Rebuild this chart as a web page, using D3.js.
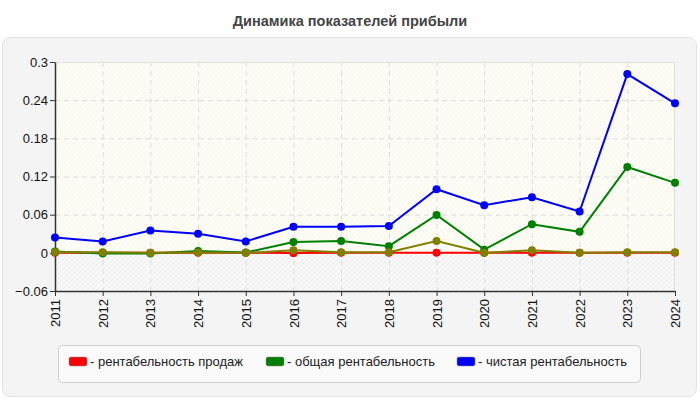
<!DOCTYPE html>
<html>
<head>
<meta charset="utf-8">
<script src="https://cdn.jsdelivr.net/npm/d3@7"></script>
<style>
	body { margin: 0; background: #fff; }
	text { font-family: "Liberation Sans", Arial, sans-serif; }
</style>
</head>
<body>
<div class="line-chart"></div>
<script>
const years = ['2011', '2012', '2013', '2014', '2015', '2016', '2017', '2018', '2019', '2020', '2021', '2022', '2023', '2024'];
const salesRent = [0.0003, 0.0003, 0.0003, 0.0003, 0.0003, -0.0004, 0.0002, 0.0002, 0.0002, 0.0002, 0.0001, 0.0002, 0.0002, 0.0002];
const totalRent = [0.002, -0.001, -0.001, 0.003, 0.0005, 0.017, 0.0185, 0.0105, 0.0595, 0.005, 0.045, 0.033, 0.135, 0.11];
const netRent = [0.024, 0.018, 0.035, 0.030, 0.018, 0.041, 0.041, 0.042, 0.100, 0.075, 0.0875, 0.065, 0.281, 0.235];
const otherRent = [0.001, 0.001, 0, 0.0005, 0, 0.004, 0.001, 0.001, 0.0185, 0, 0.004, 0, 0.001, 0.001];
const yTicks = [-0.06, 0, 0.06, 0.12, 0.18, 0.24, 0.3];

const series = [
	{name: 'рентабельность продаж', values: salesRent, color: '#ff0000', legend: true},
	{name: 'общая рентабельность', values: totalRent, color: '#008000', legend: true},
	{name: 'чистая рентабельность', values: netRent, color: '#0000ff', legend: true},
	{name: '', values: otherRent, color: '#808000', legend: false}
];

const margin = ({top: 62, right: 25, bottom: 109, left: 55});
const width = 700 - margin.left - margin.right;
const height = 400 - margin.top - margin.bottom;

const root = d3.select('.line-chart').append('svg')
	.attr('width', 700)
	.attr('height', 400);

// panel + title
root.append('rect')
	.attr('x', 2.5).attr('y', 37.5)
	.attr('width', 694).attr('height', 359)
	.attr('rx', 8)
	.attr('fill', '#f4f4f4')
	.attr('stroke', '#e2e2e2');

root.append('text')
	.attr('x', 350).attr('y', 26)
	.attr('text-anchor', 'middle')
	.attr('font-size', 14.5)
	.attr('font-weight', 'bold')
	.attr('fill', '#444')
	.text('Динамика показателей прибыли');

const defs = root.append('defs');
function hatch(id, bg, fg) {
	const p = defs.append('pattern')
		.attr('id', id)
		.attr('patternUnits', 'userSpaceOnUse')
		.attr('width', 5).attr('height', 5);
	p.append('rect').attr('width', 5).attr('height', 5).attr('fill', bg);
	p.append('path').attr('d', 'M0,5 L5,0 M-1,1 L1,-1 M4,6 L6,4')
		.attr('stroke', fg).attr('stroke-width', 1);
}
hatch('hatchPos', '#fdfdf6', '#f6f6ee');
hatch('hatchNeg', '#f8f8f8', '#ececec');

const svg = root.append('g')
	.attr('transform', 'translate(' + margin.left + ',' + margin.top + ')');

const xScale = d3.scalePoint()
	.domain(years)
	.range([0, width]);

const yScale = d3.scaleLinear()
	.domain([-0.06, 0.3])
	.range([height, 0]);

svg.append('rect')
	.attr('width', width)
	.attr('height', yScale(0))
	.attr('fill', 'url(#hatchPos)');
svg.append('rect')
	.attr('y', yScale(0))
	.attr('width', width)
	.attr('height', height - yScale(0))
	.attr('fill', 'url(#hatchNeg)');

// grid
svg.append('g')
	.selectAll('line')
	.data(yTicks.slice(1, -1))
	.join('line')
	.attr('x1', 0).attr('x2', width)
	.attr('y1', d => yScale(d) + 0.5).attr('y2', d => yScale(d) + 0.5)
	.attr('stroke', '#dcdcdc')
	.attr('stroke-dasharray', '5,4');

svg.append('g')
	.selectAll('line')
	.data(years.slice(1, -1))
	.join('line')
	.attr('x1', d => xScale(d) + 0.5).attr('x2', d => xScale(d) + 0.5)
	.attr('y1', 0).attr('y2', height)
	.attr('stroke', '#dcdcdc')
	.attr('stroke-dasharray', '5,4');

svg.append('path')
	.attr('d', `M0,0.5 H${width - 0.5} V${height}`)
	.attr('fill', 'none')
	.attr('stroke', '#e0e0e0');

// axes
const xAxis = d3.axisBottom(xScale).tickSize(5).tickSizeOuter(0);
const yAxis = d3.axisLeft(yScale).tickValues(yTicks).tickSize(5).tickSizeOuter(0)
	.tickFormat(d => d3.format('')(+d.toFixed(2)));

const gx = svg.append('g')
	.attr('class', 'axis x-axis')
	.attr('transform', `translate(0, ${height})`)
	.call(xAxis);
gx.selectAll('text')
	.attr('transform', 'rotate(-90)')
	.attr('x', -8).attr('y', 0).attr('dy', '0.35em')
	.attr('text-anchor', 'end')
	.attr('font-size', 13)
	.attr('fill', '#111');

const gy = svg.append('g')
	.attr('class', 'axis y-axis')
	.call(yAxis);
gy.selectAll('text')
	.attr('font-size', 13)
	.attr('fill', '#111')
	.attr('x', -7);

svg.selectAll('.axis path, .axis line')
	.attr('stroke', '#333');
svg.selectAll('.axis path').attr('stroke-width', 1.5);

// lines
const line = d3.line()
	.x((d, i) => xScale(years[i]))
	.y(d => yScale(d));

series.forEach(s => {
	const g = svg.append('g');
	g.append('path')
		.attr('d', line(s.values))
		.attr('fill', 'none')
		.attr('stroke', s.color)
		.attr('stroke-width', 2);
	g.selectAll('circle')
		.data(s.values)
		.join('circle')
		.attr('cx', (d, i) => xScale(years[i]))
		.attr('cy', d => yScale(d))
		.attr('r', 4)
		.attr('fill', s.color);
});

// legend
const legend = root.append('g');
legend.append('rect')
	.attr('x', 58.5).attr('y', 345.5)
	.attr('width', 582).attr('height', 37)
	.attr('rx', 4)
	.attr('fill', '#fafafa')
	.attr('stroke', '#cfcfcf');

const legendX = [69, 266, 457];
series.filter(s => s.legend).forEach((s, i) => {
	legend.append('rect')
		.attr('x', legendX[i]).attr('y', 357)
		.attr('width', 18).attr('height', 9)
		.attr('rx', 2)
		.attr('fill', s.color)
		.attr('stroke', '#888')
		.attr('stroke-width', 0.5);
	legend.append('text')
		.attr('x', legendX[i] + 21).attr('y', 366)
		.attr('font-size', 13)
		.attr('fill', '#222')
		.text('- ' + s.name);
});
</script>
</body>
</html>
